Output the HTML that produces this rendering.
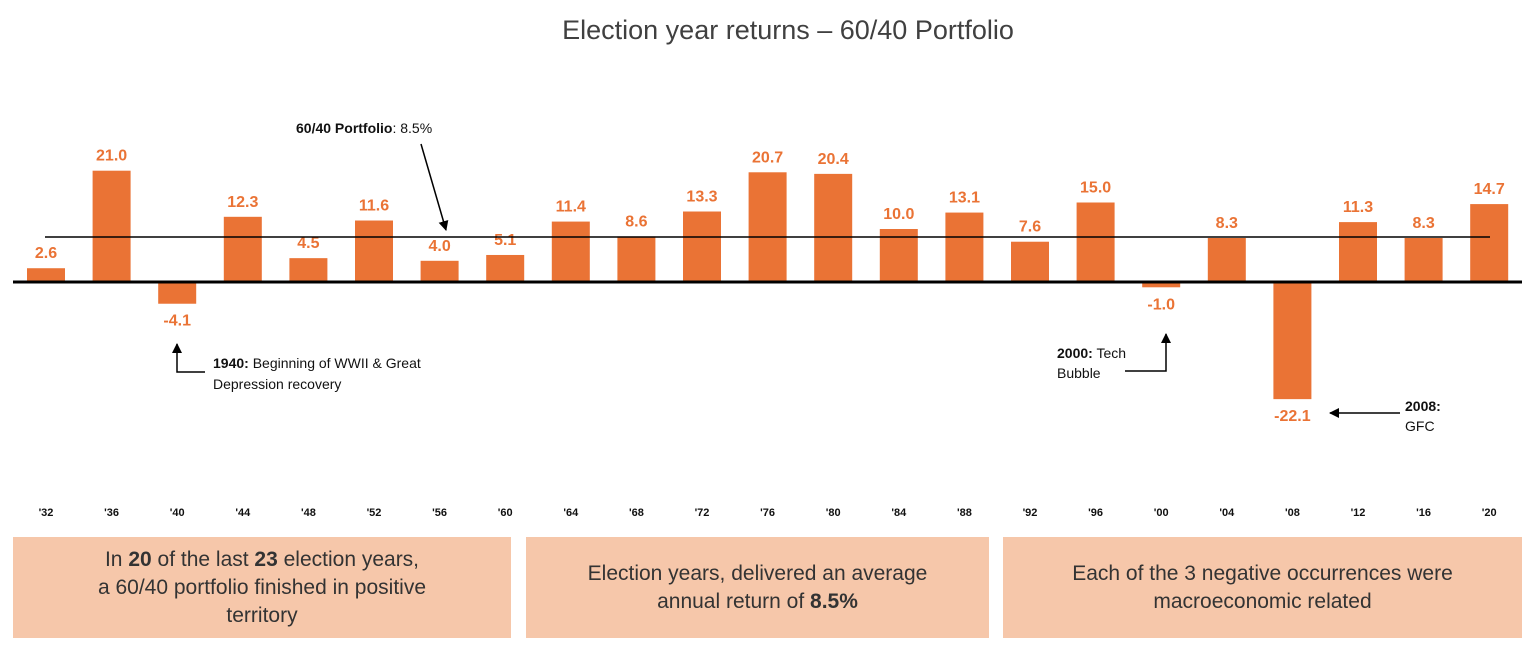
<!DOCTYPE html>
<html><head><meta charset="utf-8"><style>
body{margin:0;width:1536px;height:653px;background:#fff;font-family:"Liberation Sans",sans-serif;overflow:hidden}
.box{position:absolute;top:537px;height:101px;background:#f6c7aa;color:#333;font-size:21px;line-height:28px;text-align:center;display:table}
.box div{display:table-cell;vertical-align:middle}
</style></head><body>
<div style="position:absolute;top:15px;left:0;width:1576px;text-align:center;font-size:27px;color:#404040">Election year returns – 60/40 Portfolio</div>
<svg width="1536" height="653" style="position:absolute;left:0;top:0" font-family="Liberation Sans, sans-serif">
<defs><marker id="a" markerWidth="10" markerHeight="10" refX="9" refY="5" orient="auto" markerUnits="userSpaceOnUse"><path d="M0,0L10,5L0,10z" fill="#000"/></marker></defs>
<g id="bars"></g>
<line x1="45" y1="237" x2="1490" y2="237" stroke="#000" stroke-width="1.5"/>
<line x1="13" y1="282" x2="1522" y2="282" stroke="#000" stroke-width="3"/>
<g font-size="14" fill="#111">
<text x="296" y="133"><tspan font-weight="bold">60/40 Portfolio</tspan>: 8.5%</text>
<text x="213" y="368"><tspan font-weight="bold">1940:</tspan> Beginning of WWII &amp; Great</text>
<text x="213" y="389">Depression recovery</text>
<text x="1057" y="358"><tspan font-weight="bold">2000:</tspan> Tech</text>
<text x="1057" y="378">Bubble</text>
<text x="1405" y="411" font-weight="bold">2008:</text>
<text x="1405" y="431">GFC</text>
</g>
<g stroke="#000" stroke-width="1.5" fill="none">
<line x1="421" y1="144" x2="446" y2="230" marker-end="url(#a)"/>
<polyline points="205,372 177,372 177,344" marker-end="url(#a)"/>
<polyline points="1125,371 1166,371 1166,334" marker-end="url(#a)"/>
<line x1="1400" y1="413" x2="1330" y2="413" marker-end="url(#a)"/>
</g>
</svg>
<div class="box" style="left:13px;width:498px"><div>In <b>20</b> of the last <b>23</b> election years,<br>a 60/40 portfolio finished in positive<br>territory</div></div>
<div class="box" style="left:526px;width:463px"><div>Election years, delivered an average<br>annual return of <b>8.5%</b></div></div>
<div class="box" style="left:1003px;width:519px"><div>Each of the 3 negative occurrences were<br>macroeconomic related</div></div>
<script>
var v=[2.6,21.0,-4.1,12.3,4.5,11.6,4.0,5.1,11.4,8.6,13.3,20.7,20.4,10.0,13.1,7.6,15.0,-1.0,8.3,-22.1,11.3,8.3,14.7];
var y=['32','36','40','44','48','52','56','60','64','68','72','76','80','84','88','92','96','00','04','08','12','16','20'];
var s='',k=5.3;
for(var i=0;i<v.length;i++){var c=46+i*65.6,h=Math.abs(v[i])*k;
var t=v[i]>=0?282-h:282;
s+='<rect x="'+(c-19)+'" y="'+t+'" width="38" height="'+h+'" fill="#ea7335"/>';
var ly=v[i]>=0?282-h-10:282+h+22;
s+='<text x="'+c+'" y="'+ly+'" text-anchor="middle" font-size="16" font-weight="bold" fill="#ea7335">'+v[i].toFixed(1)+'</text>';
s+='<text x="'+c+'" y="516" text-anchor="middle" font-size="11" font-weight="bold" fill="#111">\''+y[i]+'</text>';}
document.getElementById('bars').innerHTML=s;
</script>
</body></html>
